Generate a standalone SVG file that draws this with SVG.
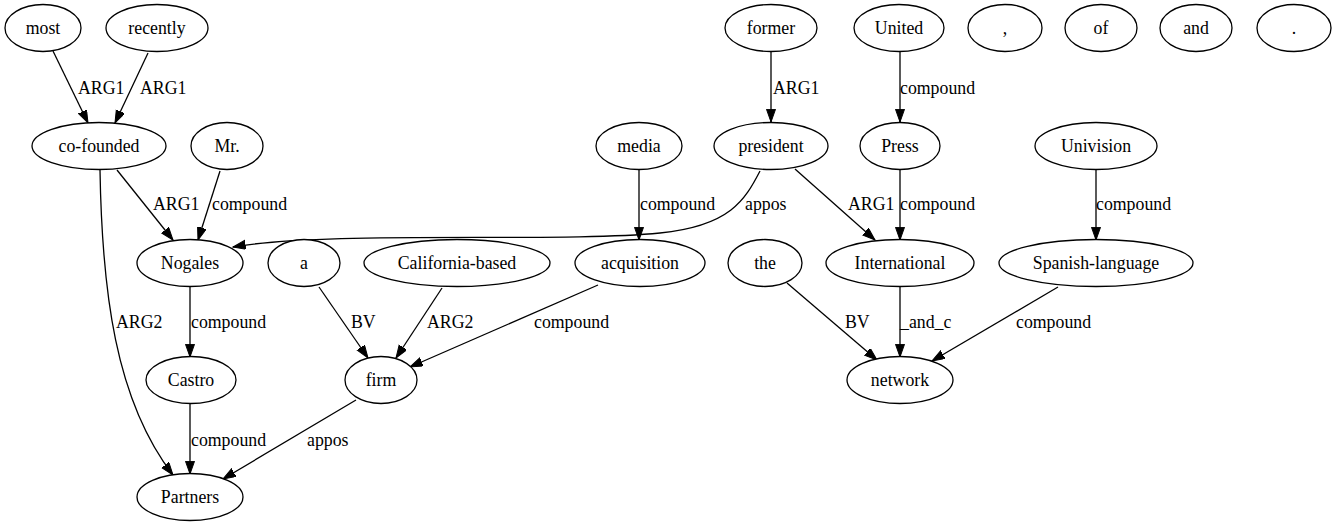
<svg xmlns="http://www.w3.org/2000/svg" width="1335" height="528" viewBox="0 0 1335 528" font-family="Liberation Serif, DejaVu Serif, serif" font-size="17.8">
<style>
.n ellipse{fill:#fff;stroke:#000;stroke-width:1.3}
.n text{text-anchor:middle}
.e path{fill:none;stroke:#000;stroke-width:1.3;marker-end:url(#ah)}
</style>
<defs>
<marker id="ah" markerUnits="userSpaceOnUse" markerWidth="14" markerHeight="10" refX="12.7" refY="4.5" orient="auto">
<path d="M0,0 L12.7,4.5 L0,9 z" fill="#000" stroke="#000" stroke-width="1"/>
</marker>
</defs>
<rect width="1335" height="528" fill="#fff"/>
<g id="edges" class="e">
<path d="M53,51 L88,123"/>
<path d="M148,53 L115,123"/>
<path d="M117,170 L173,240"/>
<path d="M220,171 L198,240"/>
<path d="M100,170 C102,290 115,400 173,475"/>
<path d="M760,171 C745,200 730,226 660,233 C560,243 330,230 233,247"/>
<path d="M795,169 L875,240"/>
<path d="M771,52 L771,122"/>
<path d="M900,52 L900,122"/>
<path d="M900,170 L900,240"/>
<path d="M1096,170 L1096,240"/>
<path d="M639,170 L639,240"/>
<path d="M190,287 L190,357"/>
<path d="M190,404 L190,474"/>
<path d="M319,287 L368,358"/>
<path d="M442,288 L396,358"/>
<path d="M598,285 L410,367"/>
<path d="M356,400 L223,479"/>
<path d="M787,283 L877,360"/>
<path d="M900,287 L900,357"/>
<path d="M1058,287 L932,361"/>
<text x="78" y="94">ARG1</text>
<text x="140" y="94">ARG1</text>
<text x="773" y="94">ARG1</text>
<text x="900" y="94">compound</text>
<text x="153" y="210">ARG1</text>
<text x="212" y="210">compound</text>
<text x="640" y="210">compound</text>
<text x="745" y="210">appos</text>
<text x="848" y="210">ARG1</text>
<text x="900" y="210">compound</text>
<text x="1096" y="210">compound</text>
<text x="116" y="328">ARG2</text>
<text x="191" y="328">compound</text>
<text x="351" y="328">BV</text>
<text x="427" y="328">ARG2</text>
<text x="534" y="328">compound</text>
<text x="845" y="328">BV</text>
<text x="900" y="328">_and_c</text>
<text x="1016" y="328">compound</text>
<text x="191" y="446">compound</text>
<text x="307" y="446">appos</text>
</g>
<g id="most" class="n"><ellipse cx="43" cy="28" rx="38" ry="23.5"/><text x="43" y="34">most</text></g>
<g id="recently" class="n"><ellipse cx="157" cy="28" rx="51" ry="23.5"/><text x="157" y="34">recently</text></g>
<g id="former" class="n"><ellipse cx="771" cy="28" rx="46" ry="23.5"/><text x="771" y="34">former</text></g>
<g id="United" class="n"><ellipse cx="899" cy="28" rx="45" ry="23.5"/><text x="899" y="34">United</text></g>
<g id="comma" class="n"><ellipse cx="1005" cy="28" rx="37" ry="23.5"/><text x="1005" y="34">,</text></g>
<g id="of" class="n"><ellipse cx="1101" cy="28" rx="36" ry="23.5"/><text x="1101" y="34">of</text></g>
<g id="and" class="n"><ellipse cx="1196" cy="28" rx="36" ry="23.5"/><text x="1196" y="34">and</text></g>
<g id="period" class="n"><ellipse cx="1294" cy="28" rx="37" ry="23.5"/><text x="1294" y="34">.</text></g>
<g id="co-founded" class="n"><ellipse cx="99" cy="146" rx="67" ry="23.5"/><text x="99" y="152">co-founded</text></g>
<g id="Mr" class="n"><ellipse cx="227" cy="146" rx="36" ry="23.5"/><text x="227" y="152">Mr.</text></g>
<g id="media" class="n"><ellipse cx="639" cy="146" rx="43" ry="23.5"/><text x="639" y="152">media</text></g>
<g id="president" class="n"><ellipse cx="771" cy="146" rx="57" ry="23.5"/><text x="771" y="152">president</text></g>
<g id="Press" class="n"><ellipse cx="900" cy="146" rx="40" ry="23.5"/><text x="900" y="152">Press</text></g>
<g id="Univision" class="n"><ellipse cx="1096" cy="146" rx="61" ry="23.5"/><text x="1096" y="152">Univision</text></g>
<g id="Nogales" class="n"><ellipse cx="190" cy="263" rx="53" ry="23.5"/><text x="190" y="269">Nogales</text></g>
<g id="a" class="n"><ellipse cx="304" cy="263" rx="36" ry="23.5"/><text x="304" y="269">a</text></g>
<g id="California-based" class="n"><ellipse cx="457" cy="263" rx="93" ry="23.5"/><text x="457" y="269">California-based</text></g>
<g id="acquisition" class="n"><ellipse cx="640" cy="263" rx="65" ry="23.5"/><text x="640" y="269">acquisition</text></g>
<g id="the" class="n"><ellipse cx="765" cy="263" rx="37" ry="23.5"/><text x="765" y="269">the</text></g>
<g id="International" class="n"><ellipse cx="900" cy="263" rx="74" ry="23.5"/><text x="900" y="269">International</text></g>
<g id="Spanish-language" class="n"><ellipse cx="1096" cy="263" rx="97" ry="23.5"/><text x="1096" y="269">Spanish-language</text></g>
<g id="Castro" class="n"><ellipse cx="191" cy="380" rx="45" ry="23.5"/><text x="191" y="386">Castro</text></g>
<g id="firm" class="n"><ellipse cx="381" cy="380" rx="36" ry="23.5"/><text x="381" y="386">firm</text></g>
<g id="network" class="n"><ellipse cx="900" cy="380" rx="53" ry="23.5"/><text x="900" y="386">network</text></g>
<g id="Partners" class="n"><ellipse cx="190" cy="497" rx="53" ry="23.5"/><text x="190" y="503">Partners</text></g>
</svg>
